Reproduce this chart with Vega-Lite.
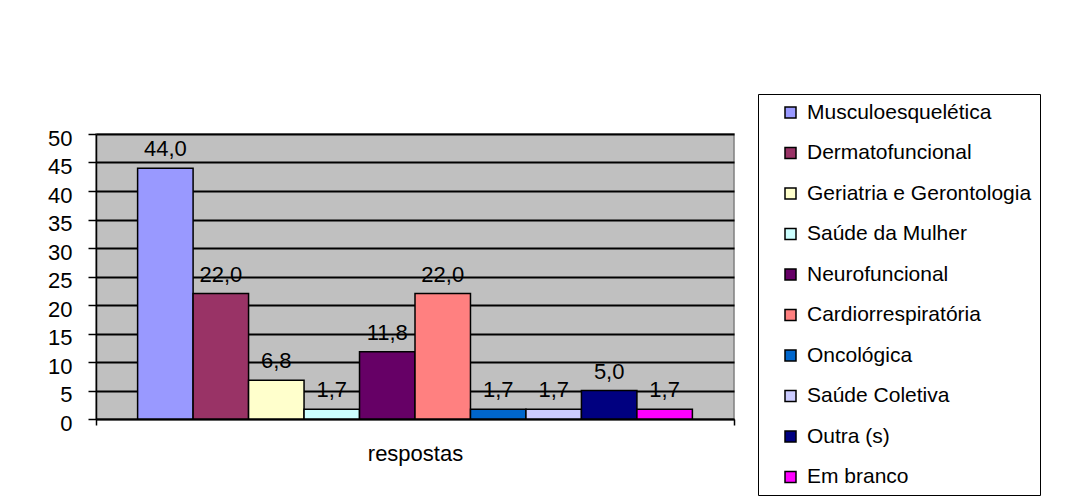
{
  "$schema": "https://vega.github.io/schema/vega-lite/v6.json",
  "width": 638,
  "height": 285,
  "autosize": {"type": "none"},
  "padding": {"left": 96, "top": 134, "right": 352, "bottom": 85},
  "background": "white",
  "data": {
    "values": [
      {"grupo": "respostas", "area": "Musculoesquelética", "valor": 44.0},
      {"grupo": "respostas", "area": "Dermatofuncional", "valor": 22.0},
      {"grupo": "respostas", "area": "Geriatria e Gerontologia", "valor": 6.8},
      {"grupo": "respostas", "area": "Saúde da Mulher", "valor": 1.7},
      {"grupo": "respostas", "area": "Neurofuncional", "valor": 11.8},
      {"grupo": "respostas", "area": "Cardiorrespiratória", "valor": 22.0},
      {"grupo": "respostas", "area": "Oncológica", "valor": 1.7},
      {"grupo": "respostas", "area": "Saúde Coletiva", "valor": 1.7},
      {"grupo": "respostas", "area": "Outra (s)", "valor": 5.0},
      {"grupo": "respostas", "area": "Em branco", "valor": 1.7}
    ]
  },
  "encoding": {
    "x": {
      "field": "grupo",
      "type": "nominal",
      "title": null,
      "scale": {"paddingInner": 0, "paddingOuter": 0},
      "axis": {
        "labelAngle": 0,
        "labelFontSize": 22,
        "labelColor": "black",
        "labelPadding": 18,
        "domainColor": "black",
        "domainWidth": 1.5,
        "tickColor": "black",
        "tickWidth": 1.5,
        "tickSize": 6,
        "tickBand": "extent",
        "grid": false
      }
    },
    "xOffset": {
      "field": "area",
      "type": "nominal",
      "sort": null,
      "scale": {"paddingInner": 0, "paddingOuter": 0.75}
    },
    "y": {
      "field": "valor",
      "type": "quantitative",
      "title": null,
      "scale": {"domain": [0, 50], "nice": false},
      "axis": {
        "values": [0, 5, 10, 15, 20, 25, 30, 35, 40, 45, 50],
        "labelFontSize": 22,
        "labelColor": "black",
        "labelPadding": 16,
        "labelOffset": 4,
        "domainColor": "black",
        "domainWidth": 1.5,
        "tickColor": "black",
        "tickWidth": 1.5,
        "tickSize": 8,
        "grid": true,
        "gridColor": "black",
        "gridWidth": 2,
        "gridOpacity": 1
      }
    }
  },
  "layer": [
    {
      "mark": {"type": "bar", "stroke": "black", "strokeWidth": 1.5},
      "encoding": {
        "color": {
          "field": "area",
          "type": "nominal",
          "sort": null,
          "scale": {
            "domain": ["Musculoesquelética", "Dermatofuncional", "Geriatria e Gerontologia", "Saúde da Mulher", "Neurofuncional", "Cardiorrespiratória", "Oncológica", "Saúde Coletiva", "Outra (s)", "Em branco"],
            "range": ["#9999FF", "#993366", "#FFFFCC", "#CCFFFF", "#660066", "#FF8080", "#0066CC", "#CCCCFF", "#000080", "#FF00FF"]
          },
          "legend": {
            "title": null,
            "orient": "none",
            "legendX": 662,
            "legendY": -40,
            "strokeColor": "black",
            "padding": 8,
            "symbolType": "square",
            "symbolSize": 121,
            "symbolStrokeColor": "black",
            "symbolStrokeWidth": 1.5,
            "symbolOffset": 14,
            "labelOffset": 6,
            "labelFontSize": 21,
            "labelColor": "black",
            "labelLimit": 400,
            "rowPadding": 18.5,
            "fillColor": "white"
          }
        }
      }
    },
    {
      "mark": {"type": "text", "baseline": "alphabetic", "dy": -12, "fontSize": 22, "color": "black"},
      "encoding": {
        "text": {"field": "valor", "type": "quantitative", "format": ".1f"}
      }
    }
  ],
  "config": {
    "font": "Liberation Sans",
    "locale": {
      "number": {"decimal": ",", "thousands": ".", "grouping": [3], "currency": ["R$", ""]}
    },
    "view": {"fill": "#C0C0C0", "stroke": "#808080", "strokeWidth": 1.5}
  }
}
